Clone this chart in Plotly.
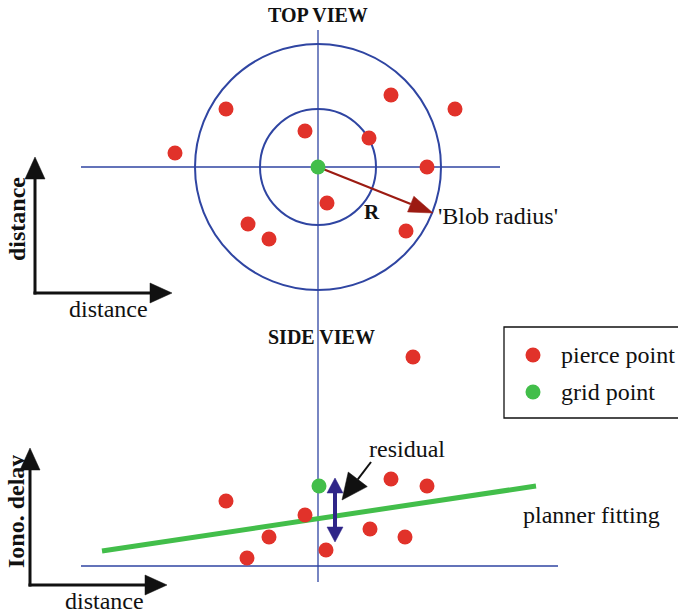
import numpy as np
import plotly.graph_objects as go

W, H = 678, 615

# ---- colours ----
RED = "#e1322a"
GREEN = "#42be4a"
BLUE = "#2f45a2"
DARK_RED = "#9c1b12"
PURPLE = "#2f2588"
BLACK = "#111111"
SERIF = "'Liberation Serif', 'Times New Roman', serif"

# ---- top view (plan) ----
top_center_x, top_center_y = 318, 167
outer_radius = 123
inner_radius = 58
top_pierce_x = [226, 391, 455, 175, 305, 369, 427, 327, 248, 269, 406]
top_pierce_y = [109, 95, 109, 153, 131, 138, 167, 203, 224, 239, 231]
top_hline_x = [81, 500]
vline_y = [30, 582]
blob_arrow_tip = (433, 213)

# ---- side view (profile) ----
side_pierce_x = [413, 226, 305, 269, 247, 326, 391, 427, 370, 405]
side_pierce_y = [357, 501, 515, 537, 558, 550, 479, 486, 529, 537]
side_grid_x, side_grid_y = [319], [486]
baseline_y = 566
baseline_x = [81, 558]
fit_x = [102, 536]
fit_y = [551, 486]
residual_x = 335
residual_y = [478, 542]
pointer_tail = (371, 462)
pointer_tip = (342, 500)

# ---- axis glyphs ----
top_axes_origin = (35, 293)
top_axes_ends = (157, 172)     # y of vertical tip, x of horizontal tip
side_axes_origin = (30, 585)
side_axes_ends = (448, 167)

# ---- legend ----
legend_box = (504, 327, 690, 418)
legend_labels = ["pierce point", "grid point"]
legend_colors = [RED, GREEN]
legend_rows_y = [355, 392]

DOT = 15


def head_path(tip, tail, length, width):
    tip = np.asarray(tip, float)
    tail = np.asarray(tail, float)
    u = (tip - tail) / np.linalg.norm(tip - tail)
    n = np.array([-u[1], u[0]])
    base = tip - u * length
    a = base + n * width / 2
    b = base - n * width / 2
    return f"M{tip[0]},{tip[1]} L{a[0]},{a[1]} L{b[0]},{b[1]} Z", base


shapes = []


def line(x0, y0, x1, y1, color, width):
    shapes.append(dict(type="line", x0=x0, y0=y0, x1=x1, y1=y1,
                       line=dict(color=color, width=width), layer="below"))


def arrow(tail, tip, color, lw, hl, hw):
    path, base = head_path(tip, tail, hl, hw)
    line(tail[0], tail[1], base[0], base[1], color, lw)
    shapes.append(dict(type="path", path=path, fillcolor=color,
                       line=dict(color=color, width=0.5), layer="below"))


# cross-hairs and circles
line(top_center_x, vline_y[0], top_center_x, vline_y[1], BLUE, 1.3)
line(top_hline_x[0], top_center_y, top_hline_x[1], top_center_y, BLUE, 1.3)
for r in (outer_radius, inner_radius):
    shapes.append(dict(type="circle", x0=top_center_x - r, x1=top_center_x + r,
                       y0=top_center_y - r, y1=top_center_y + r,
                       line=dict(color=BLUE, width=2), layer="below"))

# blob radius arrow
arrow((top_center_x, top_center_y), blob_arrow_tip, DARK_RED, 2.2, 24, 17)

# side view baseline, fit, residual
line(baseline_x[0], baseline_y, baseline_x[1], baseline_y, BLUE, 1.3)
line(fit_x[0], fit_y[0], fit_x[1], fit_y[1], GREEN, 5)
mid = (residual_y[0] + residual_y[1]) / 2
arrow((residual_x, mid), (residual_x, residual_y[0]), PURPLE, 4, 15, 16)
arrow((residual_x, mid), (residual_x, residual_y[1]), PURPLE, 4, 15, 16)
arrow(pointer_tail, pointer_tip, BLACK, 2, 26, 24)

# axis glyphs
for (ox, oy), (ty, tx) in ((top_axes_origin, top_axes_ends), (side_axes_origin, side_axes_ends)):
    arrow((ox, oy + 1.5), (ox, ty), BLACK, 3, 22, 20)
    arrow((ox - 1.5, oy), (tx, oy), BLACK, 3, 22, 20)

# legend frame
x0, y0, x1, y1 = legend_box
shapes.append(dict(type="rect", x0=x0, y0=y0, x1=x1, y1=y1,
                   line=dict(color=BLACK, width=1.3), layer="below"))

fig = go.Figure()
fig.add_trace(go.Scatter(x=top_pierce_x, y=top_pierce_y, mode="markers",
                         marker=dict(size=DOT, color=RED), hoverinfo="skip"))
fig.add_trace(go.Scatter(x=[top_center_x], y=[top_center_y], mode="markers",
                         marker=dict(size=DOT, color=GREEN), hoverinfo="skip"))
fig.add_trace(go.Scatter(x=side_pierce_x, y=side_pierce_y, mode="markers",
                         marker=dict(size=DOT, color=RED), hoverinfo="skip"))
fig.add_trace(go.Scatter(x=side_grid_x, y=side_grid_y, mode="markers",
                         marker=dict(size=DOT, color=GREEN), hoverinfo="skip"))
fig.add_trace(go.Scatter(x=[533] * len(legend_rows_y), y=legend_rows_y, mode="markers",
                         marker=dict(size=DOT, color=legend_colors), hoverinfo="skip"))


def text(x, y, s, size=24, bold=False, anchor="center", angle=0):
    fig.add_annotation(x=x, y=y, text=f"<b>{s}</b>" if bold else s,
                       showarrow=False, xanchor=anchor, yanchor="middle",
                       textangle=angle,
                       font=dict(family=SERIF, size=size, color=BLACK))


text(318, 15, "TOP VIEW", size=20, bold=True)
text(321, 337, "SIDE VIEW", size=20, bold=True)
text(372, 212, "R", size=21, bold=True)
text(436, 216, "'Blob radius'", size=24, anchor="left")
text(17, 219, "distance", size=24, bold=True, angle=-90)
text(108, 309, "distance", size=24)
for lab, ly in zip(legend_labels, legend_rows_y):
    text(559, ly, lab, size=24, anchor="left")
text(407, 449, "residual", size=24)
text(521, 515, "planner fitting", size=24, anchor="left")
text(16, 512, "Iono. delay", size=24, bold=True, angle=-90)
text(104, 601, "distance", size=24)

fig.update_layout(
    width=W, height=H, margin=dict(l=0, r=0, t=0, b=0),
    paper_bgcolor="white", plot_bgcolor="white", showlegend=False,
    shapes=shapes,
    xaxis=dict(range=[0, W], visible=False, fixedrange=True),
    yaxis=dict(range=[H, 0], visible=False, fixedrange=True),
)
fig.write_html("out.html")
